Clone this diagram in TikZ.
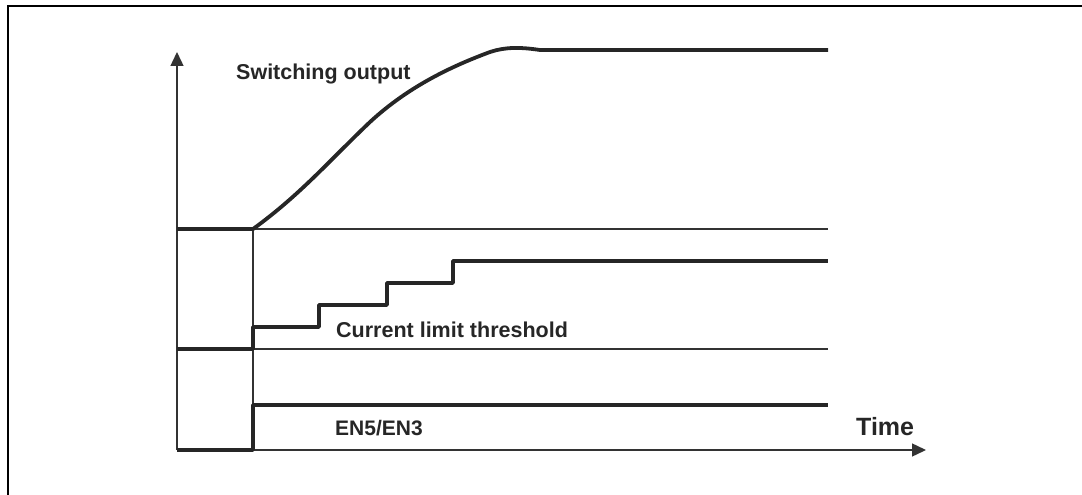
\documentclass[tikz,border=0pt]{standalone}
\usepackage{fontspec}
\setmainfont{Liberation Sans}
\usetikzlibrary{arrows.meta}
\begin{document}
\begin{tikzpicture}[x=1pt,y=-1pt,
  thinline/.style={line width=1.4pt, draw=black!80},
  thickline/.style={line width=3.8pt, draw=black!85, line join=round},
  axisline/.style={line width=1.4pt, draw=black!80, -{Triangle[length=14pt,width=13pt]}},
  lbl/.style={inner sep=0pt, anchor=base west, text=black!85}]
\useasboundingbox (0,0) rectangle (1082,495);
% frame
\draw[line width=2.5pt] (8,495) -- (8,6) -- (1082,6);
% axes
\coordinate (O) at (177,450);
\coordinate (ytip) at (177,52);
\coordinate (xtip) at (926,450);
\draw[axisline] (O) -- (ytip);
\draw[axisline] (O) -- (xtip);
% event line
\coordinate (t0top) at (253,229);
\coordinate (t0bot) at (253,450);
\draw[thinline] (t0top) -- (t0bot);
% reference lines
\coordinate (s0) at (177,229);
\coordinate (s1) at (828,229);
\coordinate (c0) at (177,349);
\coordinate (c1) at (828,349);
\draw[thinline] (t0top) -- (s1);
\draw[thinline] (253,349) -- (c1);
% switching output
\draw[thickline] (s0) -- (t0top)
  .. controls (300,195) and (330,160) .. (370,122)
  .. controls (410,85) and (455,65) .. (490,52)
  .. controls (505,47) and (520,47) .. (540,50)
  -- (828,50);
% current limit threshold steps
\draw[thickline] (c0) -- (253,349) -- (253,327) -- (319,327) -- (319,305) -- (387,305) -- (387,283) -- (453,283) -- (453,261) -- (828,261);
% EN
\draw[thickline] (O) -- (253,450) -- (253,405) -- (828,405);
% labels
\node[lbl, font=\bfseries\fontsize{21.5}{24}\selectfont] (sw) at (236,80) {Switching output};
\node[lbl, font=\bfseries\fontsize{21.5}{24}\selectfont] (cl) at (336,337) {Current limit threshold};
\node[lbl, font=\bfseries\fontsize{21}{24}\selectfont] (en) at (335,435) {EN5/EN3};
\node[lbl, font=\bfseries\fontsize{25}{28}\selectfont] (tm) at (856,435) {Time};
\end{tikzpicture}
\end{document}
